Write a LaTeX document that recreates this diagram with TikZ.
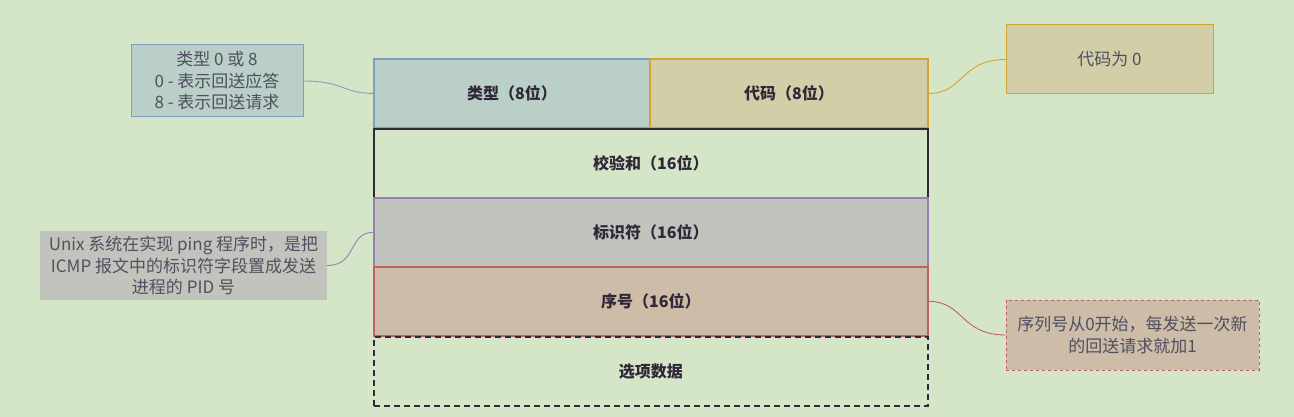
\documentclass[tikz,border=0pt]{standalone}
\usepackage{fontspec}
\setmainfont{Noto Sans CJK SC}
\definecolor{bg}{RGB}{213,229,200}
\definecolor{txt}{RGB}{48,40,56}
\definecolor{notetxt}{RGB}{80,80,96}
\definecolor{typefill}{RGB}{185,207,200}
\definecolor{typedraw}{RGB}{127,159,191}
\definecolor{codefill}{RGB}{210,206,168}
\definecolor{codedraw}{RGB}{212,164,48}
\definecolor{idfill}{RGB}{192,196,188}
\definecolor{iddraw}{RGB}{150,128,176}
\definecolor{seqfill}{RGB}{204,188,168}
\definecolor{seqdraw}{RGB}{192,96,96}
\begin{document}
\begin{tikzpicture}[x=1pt,y=-1pt,
  field/.style={draw=txt,line width=1.8pt,minimum height=69pt,inner sep=0pt,
    font=\bfseries\fontsize{16}{19}\selectfont,text=txt,anchor=north west},
  note/.style={inner sep=0pt,align=center,text=notetxt,
    font=\fontsize{17}{21.5}\selectfont},
  link/.style={line width=0.9pt}]
\fill[bg] (0,0) rectangle (1294,417);
\useasboundingbox (0,0) rectangle (1294,417);
% fields
\node[field,fill=typefill,draw=typedraw,minimum width=276pt] (type) at (373,58) {类型（8位）};
\node[field,fill=codefill,draw=codedraw,minimum width=278pt] (code) at (649,58) {代码（8位）};
\node[field,minimum width=554pt] (chk) at (373,128) {校验和（16位）};
\node[field,fill=idfill,draw=iddraw,minimum width=554pt] (id) at (373,197) {标识符（16位）};
\node[field,fill=seqfill,draw=seqdraw,minimum width=554pt] (seq) at (373,266) {序号（16位）};
\node[field,dashed,dash pattern=on 6pt off 4pt,minimum width=554pt] (opt) at (373,336) {选项数据};
% notes
\node[note,fill=typefill,draw=typedraw,line width=1pt,minimum width=172pt,minimum height=72pt] (n1) at (217,81) {类型 0 或 8\\0 - 表示回送应答\\8 - 表示回送请求};
\node[note,fill=codefill,draw=codedraw,line width=1pt,minimum width=207pt,minimum height=69pt] (n2) at (1109.5,59.5) {代码为 0};
\node[note,fill=idfill,minimum width=287pt,minimum height=69pt] (n3) at (183.5,265.5) {Unix 系统在实现 ping 程序时，是把\\ICMP 报文中的标识符字段置成发送\\进程的 PID 号};
\node[note,fill=seqfill,draw=seqdraw,dashed,line width=0.8pt,minimum width=253pt,minimum height=70pt] (n4) at (1132.5,335) {序列号从0开始，每发送一次新\\的回送请求就加1};
% connectors
\draw[link,draw=typedraw] (n1.east) .. controls +(40,0) and +(-30,0) .. (type.west);
\draw[link,draw=codedraw] (n2.west) .. controls +(-45,0) and +(35,0) .. (code.east);
\draw[link,draw=iddraw] (n3.east) .. controls +(30,0) and +(-25,0) .. (id.west);
\draw[link,draw=seqdraw] (n4.west) .. controls +(-45,0) and +(35,0) .. (seq.east);
\end{tikzpicture}
\end{document}
